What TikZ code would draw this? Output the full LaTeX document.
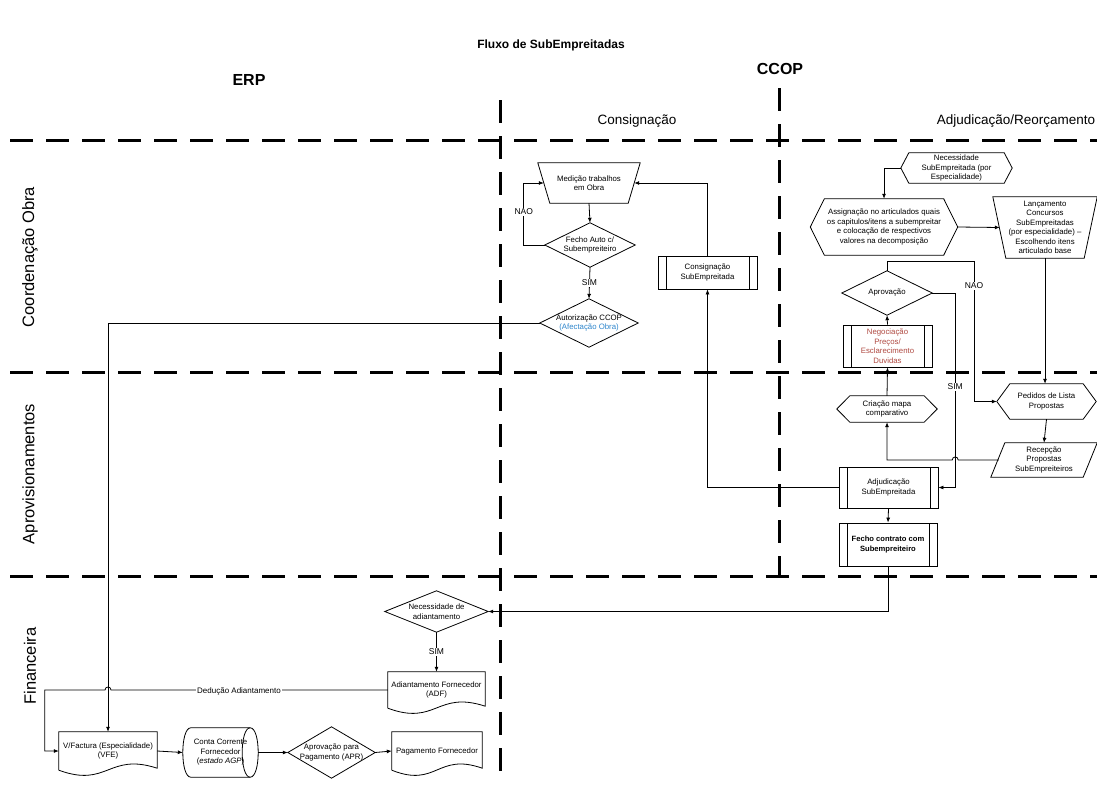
\documentclass[tikz,border=0pt]{standalone}
\usepackage{fontspec}
\setmainfont{Liberation Sans}
\usetikzlibrary{arrows.meta,calc}

\definecolor{linkblue}{RGB}{46,134,204}
\definecolor{negred}{RGB}{176,74,66}

\tikzset{
  box/.style={rectangle, draw=none, inner sep=0pt, align=center,
    font=\fontsize{7.8}{9.5}\selectfont, text=black},
  subproc/.style={box, draw, line width=0.8pt,
    path picture={\draw[line width=0.8pt]
      ([xshift=8pt]path picture bounding box.north west) -- ([xshift=8pt]path picture bounding box.south west)
      ([xshift=-8pt]path picture bounding box.north east) -- ([xshift=-8pt]path picture bounding box.south east);}},
  shapeline/.style={draw, line width=0.8pt},
  flow/.style={draw, line width=0.8pt, -{Latex[length=5pt,width=4pt]}},
  lanesep/.style={line width=3pt, dash pattern=on 23pt off 13pt},
  tag/.style={fill=white, inner sep=1pt, font=\fontsize{8.5}{10}\selectfont},
  lanelabel/.style={font=\fontsize{16.5}{18}\selectfont, rotate=90},
  colhead/.style={font=\fontsize{13.5}{15}\selectfont},
  syshead/.style={font=\bfseries\fontsize{16}{18}\selectfont},
}

% outlines drawn around the anchors of a plain rectangular node
\newcommand\drawdiam[1]{\draw[shapeline] (#1.north) -- (#1.east) -- (#1.south) -- (#1.west) -- cycle;}
\newcommand\drawhex[2]{\draw[shapeline] (#1.west) -- ([xshift=#2pt]#1.north west) -- ([xshift=-#2pt]#1.north east)
  -- (#1.east) -- ([xshift=-#2pt]#1.south east) -- ([xshift=#2pt]#1.south west) -- cycle;}
\newcommand\drawtrap[2]{\draw[shapeline] (#1.north west) -- (#1.north east) -- ([xshift=-#2pt]#1.south east)
  -- ([xshift=#2pt]#1.south west) -- cycle;}
\newcommand\drawpara[2]{\draw[shapeline] ([xshift=#2pt]#1.north west) -- (#1.north east) -- ([xshift=-#2pt]#1.south east)
  -- (#1.south west) -- cycle;}
\newcommand\drawdoc[1]{\draw[shapeline] (#1.south west) -- (#1.north west) -- (#1.north east) -- ($(#1.south east)+(0,-2)$)
  .. controls ($(#1.south west)!0.5!(#1.south east)+(0,-18)$) and ($(#1.south west)!0.5!(#1.south east)+(0,18)$) .. (#1.south west);}
\newcommand\drawdisk[1]{%
  \draw[shapeline] ([xshift=8pt]#1.north west) -- ([xshift=-8pt]#1.north east)
    .. controls ([xshift=2.67pt]#1.north east) and ([xshift=2.67pt]#1.south east) .. ([xshift=-8pt]#1.south east)
    -- ([xshift=8pt]#1.south west)
    .. controls ([xshift=-2.67pt]#1.south west) and ([xshift=-2.67pt]#1.north west) .. cycle;
  \draw[shapeline] ([xshift=-8pt]#1.north east)
    .. controls ([xshift=-18.67pt]#1.north east) and ([xshift=-18.67pt]#1.south east) .. ([xshift=-8pt]#1.south east);}

\begin{document}
\begin{tikzpicture}[x=1pt, y=-1pt]
\useasboundingbox (0,0) rectangle (1097,784);
\fill[white] (0,0) rectangle (1097,784);

% ---- headings
\node[font=\bfseries\fontsize{12}{14}\selectfont] (title) at (551,45) {Fluxo de SubEmpreitadas};
\node[syshead] (erp) at (249,80) {ERP};
\node[syshead] (ccop) at (780,69) {CCOP};
\node[colhead] (hcons) at (637,121) {Consignação};
\node[colhead] (hadj) at (1016,121) {Adjudicação/Reorçamento};
\node[lanelabel] (lcoord) at (30,257) {Coordenação Obra};
\node[lanelabel] (laprov) at (30,474) {Aprovisionamentos};
\node[lanelabel] (lfin) at (30,666) {Financeira};

% ---- lane separators
\draw[lanesep] (10,140) -- (1097,140);
\draw[lanesep] (10,372) -- (1097,372);
\draw[lanesep] (10,576) -- (1097,576);
\draw[lanesep] (500,100) -- (500,784);
\draw[lanesep] (779,88) -- (779,577);

% ---- Consignação
\node[box, minimum width=102, minimum height=40] (med) at (589,183) {Medição trabalhos\\em Obra};
\drawtrap{med}{12}
\node[box, minimum width=90, minimum height=44] (fa) at (590,245) {Fecho Auto c/\\Subempreiteiro};
\drawdiam{fa}
\node[box, minimum width=98, minimum height=48] (aut) at (589,323) {Autorização CCOP\\{\color{linkblue}(Afectação Obra)}};
\drawdiam{aut}
\node[subproc, minimum width=99, minimum height=33] (cons) at (707.5,272.5) {Consignação\\SubEmpreitada};

% ---- Adjudicação / Reorçamento
\node[box, minimum width=111, minimum height=30] (nse) at (956.5,168) {Necessidade\\SubEmpreitada (por\\Especialidade)};
\drawhex{nse}{8}
\node[box, minimum width=147, minimum height=56] (asg) at (884,227) {Assignação no articulados quais\\os capitulos/itens a subempreitar\\e colocação de respectivos\\valores na decomposição};
\drawhex{asg}{14}
\node[box, minimum width=104, minimum height=61] (lan) at (1045,227.5) {Lançamento\\Concursos\\SubEmpreitadas\\(por especialidade) –\\Escolhendo itens\\articulado base};
\drawtrap{lan}{13}
\node[box, minimum width=90, minimum height=44] (apr) at (887,293) {Aprovação};
\drawdiam{apr}
\node[subproc, minimum width=89, minimum height=42, text=negred] (neg) at (887.5,346) {Negociação\\Preços/\\Esclarecimento\\Duvidas};
\node[box, minimum width=100, minimum height=26] (cri) at (887,409) {Criação mapa\\comparativo};
\drawhex{cri}{13}
\node[box, minimum width=99, minimum height=35] (ped) at (1046.5,401.5) {Pedidos de Lista\\Propostas};
\drawhex{ped}{13}
\node[box, minimum width=106, minimum height=34] (rec) at (1044,460) {Recepção\\Propostas\\SubEmpreiteiros};
\drawpara{rec}{14}
\node[subproc, minimum width=99, minimum height=41] (adj) at (888.5,487.5) {Adjudicação\\SubEmpreitada};
\node[subproc, minimum width=98, minimum height=43, font=\bfseries\fontsize{7.6}{9.5}\selectfont] (fc) at (888,544.5) {Fecho contrato com\\Subempreiteiro};

% ---- Financeira
\node[box, minimum width=103, minimum height=41] (na) at (436.5,611.5) {Necessidade de\\adiantamento};
\drawdiam{na}
\node[box, minimum width=97, minimum height=36] (adf) at (436.5,690) {Adiantamento Fornecedor\\(ADF)};
\drawdoc{adf}
\node[box, minimum width=98, minimum height=38] (vf) at (108,751) {V/Factura (Especialidade)\\(VFE)};
\drawdoc{vf}
\node[box, minimum width=75, minimum height=49] (cc) at (220.5,752.5) {Conta Corrente\\Fornecedor\\(\textit{estado AGP})};
\drawdisk{cc}
\node[box, minimum width=87, minimum height=51] (apa) at (331.5,752.5) {Aprovação para\\Pagamento (APR)};
\drawdiam{apa}
\node[box, minimum width=90, minimum height=38] (pag) at (437,751) {Pagamento Fornecedor};
\drawdoc{pag}

% ---- connectors: Consignação
\draw[flow] (med.south) -- (fa.north);
\draw[flow] (fa.west) -- ++(-21,0) coordinate (naoL) |- ($(med.west)+(6,0)$);
\node[tag] (naoA) at ($(naoL)+(0,-33)$) {NAO};
\draw[flow] (fa.south) -- (aut.north) node[tag, midway] (simA) {SIM};
\draw[flow] (cons.north) |- ($(med.east)+(-6,0)$);
\draw[flow] (adj.west) -| (cons.south);
\draw[flow] (aut.west) -| (vf.north);

% ---- connectors: Adjudicação / Reorçamento
\draw[flow] (nse.west) -| (asg.north);
\draw[flow] (asg.east) -- ($(lan.west)+(7,0)$);
\draw[flow] (lan.south) -- (lan.south |- ped.north);
\draw[flow] (apr.north) -- ++(0,-9) -- ++(87,0) coordinate (naoT) |- (ped.west);
\node[tag] (naoB) at ($(naoT)+(0,24)$) {NAO};
\coordinate (simx) at ($(apr.east)+(23,0)$);
\draw[flow] (apr.east) -- (simx) |- (adj.east);
\node[tag] (simB) at ($(simx)+(0,94)$) {SIM};
\draw[flow] (neg.north) -- (apr.south);
\draw[flow] (cri.north) -- (neg.south);
\draw[flow] (ped.south) -- (rec.north);
\coordinate (recw) at ($(rec.west)+(8,0)$);
\draw[flow] (recw) -- ($(simx |- recw)+(3,0)$)
  .. controls ($(simx |- recw)+(3,-4)$) and ($(simx |- recw)+(-3,-4)$) .. ($(simx |- recw)+(-3,0)$)
  -| (cri.south);
\draw[flow] (adj.south) -- (fc.north);
\draw[flow] (fc.south) |- (na.east);

% ---- connectors: Financeira
\draw[flow] (na.south) -- (adf.north) node[tag, midway] (simC) {SIM};
\draw[flow] (adf.west) -- ($(vf.north |- adf.west)+(3,0)$)
  .. controls ($(vf.north |- adf.west)+(3,-4)$) and ($(vf.north |- adf.west)+(-3,-4)$) .. ($(vf.north |- adf.west)+(-3,0)$)
  -- ($(vf.west |- adf.west)+(-14,0)$) |- (vf.west);
\node[tag, font=\fontsize{8}{10}\selectfont] (ded) at (239,691) {Dedução Adiantamento};
\draw[flow] (vf.east) -- (cc.west);
\draw[flow] (cc.east) -- (apa.west);
\draw[flow] (apa.east) -- (pag.west);
\end{tikzpicture}
\end{document}
